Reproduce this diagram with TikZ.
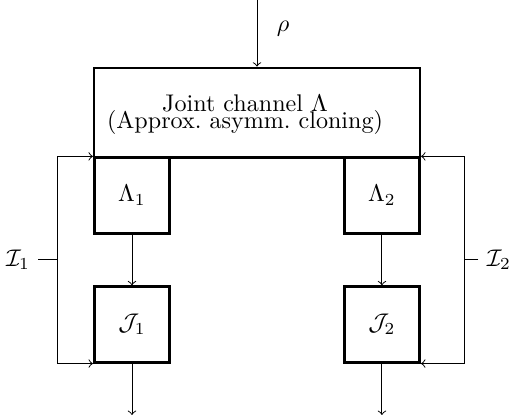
\documentclass[tikz,border=0pt]{standalone}
\usepackage{amsmath}
\begin{document}
\begin{tikzpicture}
  [
  line width=0.4pt, draw=black, >=to,
  block/.style={rectangle, inner sep = 0pt, minimum size = 1.1cm, draw=black, line width=1.2pt},
  bigblock/.style={rectangle, minimum width = 4.757cm, minimum height = 1.31cm, draw=black, line width=1.2pt}
  ]

\useasboundingbox (0,0) rectangle (7.5,6.113);

\node[bigblock] (joint) at (3.75,4.465) {};
\node[align=center] (jtext) at (3.575,4.44)
  {Joint channel $\Lambda$\\[-5pt](Approx.\ asymm.\ cloning)};

\coordinate (in) at (3.75,6.113);
\draw[->] (in) -- (joint.north);
\node (rho) at (4.13,5.70) {$\rho$};

\foreach \i/\x in {1/1.926, 2/5.573} {
  \node[block] (L\i) at (\x,3.26) {$\Lambda_\i$};
  \node[block] (J\i) at (\x,1.379) {$\mathcal{J}_\i$};
  \coordinate (out\i) at (\x,0.058);
  \draw[->] (L\i) -- (J\i);
  \draw[->] (J\i) -- (out\i);
}

% feedback of the instruments
\coordinate (c1) at (0.832,2.32);
\coordinate (c2) at (6.784,2.32);
\node (I1) at (0.263,2.32) {$\mathcal{I}_1$};
\node (I2) at (7.280,2.32) {$\mathcal{I}_2$};
\draw (I1) -- (c1);
\draw (I2) -- (c2);
\draw[->] (c1) |- (L1.north west);
\draw[->] (c1) |- (J1.south west);
\draw[->] (c2) |- (L2.north east);
\draw[->] (c2) |- (J2.south east);

\end{tikzpicture}
\end{document}
